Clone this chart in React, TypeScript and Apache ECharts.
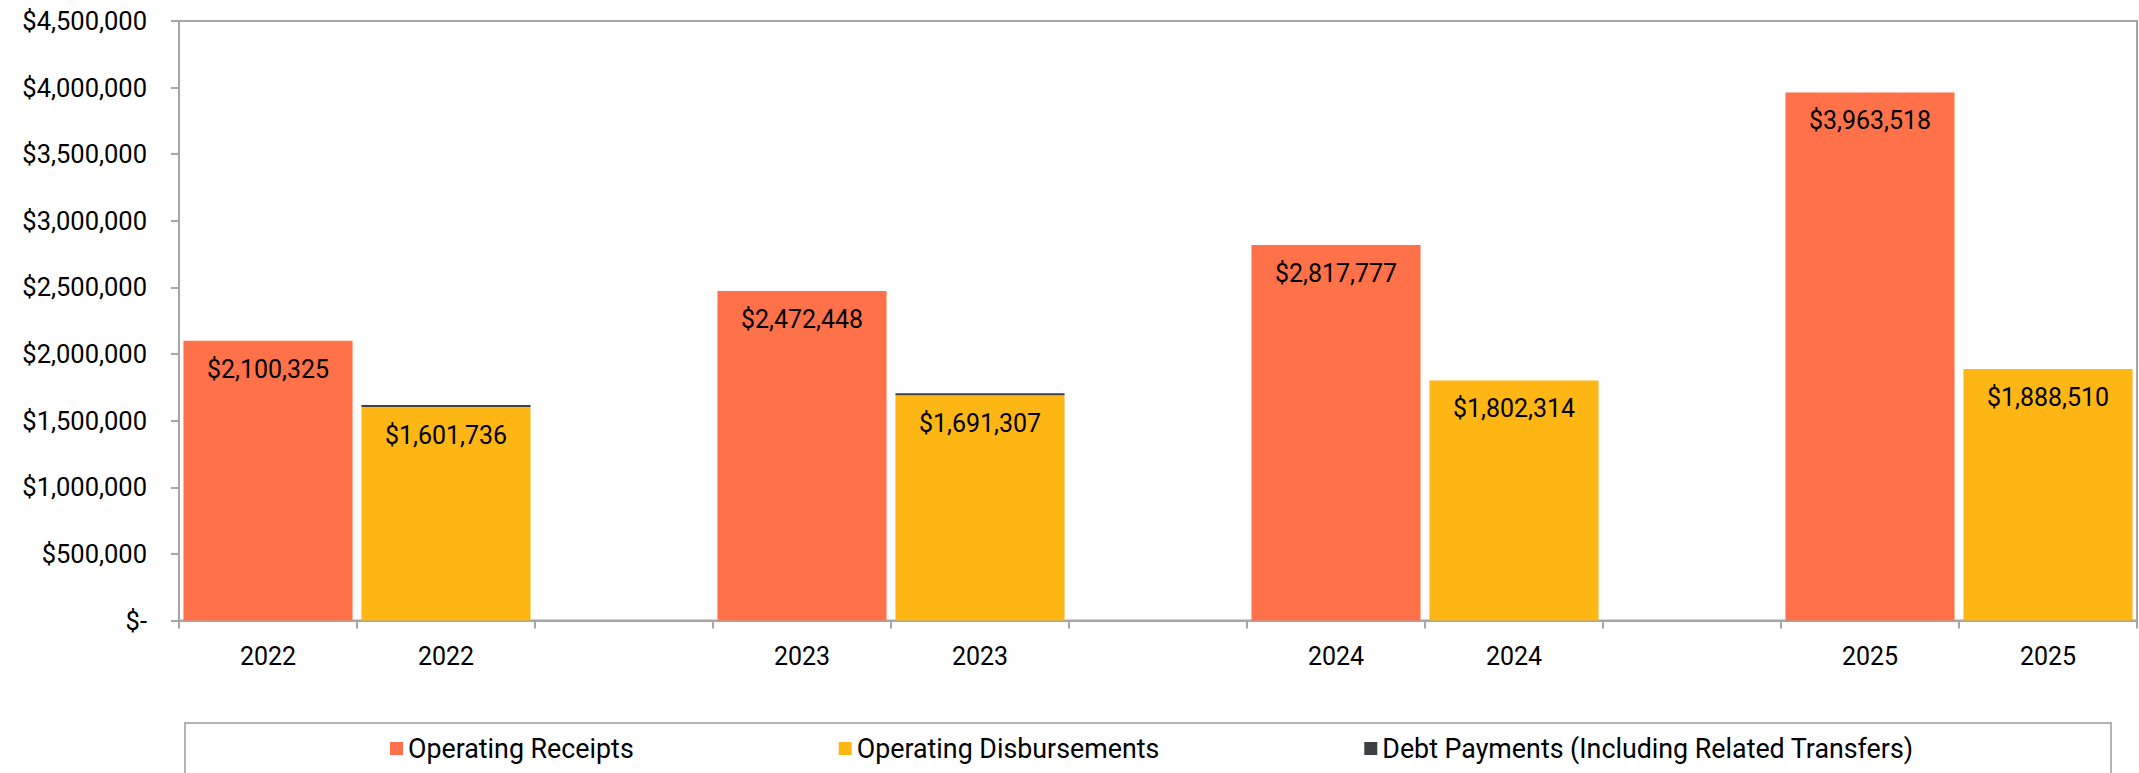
import React, { useEffect, useRef } from "react";
import * as echarts from "echarts";

const years = ["2022", "2023", "2024", "2025"];
const receipts = [2100325, 2472448, 2817777, 3963518];
const disbursements = [1601736, 1691307, 1802314, 1888510];
const debtPayments = [15000, 15000, 0, 0];
const yTicks = { min: 0, max: 4500000, interval: 500000 };

const FONT = "Roboto";
const C_REC = "#FF7148";
const C_DIS = "#FDB614";
const C_DEBT = "#3C4045";
const AXIS = "#a6a6a6";

export default function App() {
  const ref = useRef<HTMLDivElement>(null);
  useEffect(() => {
    document.body.style.margin = "0";
    if (!ref.current) return;
    const chart = echarts.init(ref.current, undefined, { renderer: "svg" });

    const categories: string[] = [];
    const recData: (number | null)[] = [];
    const disData: (number | null)[] = [];
    const debtData: (number | null)[] = [];
    years.forEach((y, i) => {
      categories.push(y, y);
      recData.push(receipts[i], null);
      disData.push(null, disbursements[i]);
      debtData.push(null, debtPayments[i] > 0 ? debtPayments[i] : null);
      if (i < years.length - 1) {
        categories.push("");
        recData.push(null);
        disData.push(null);
        debtData.push(null);
      }
    });

    const fmt = (v: number) => "$" + Math.round(v).toLocaleString("en-US");
    const label = {
      show: true,
      position: "insideTop",
      distance: 16,
      color: "#000",
      fontFamily: FONT,
      fontSize: 25,
      formatter: (p: any) => fmt(p.value),
    };

    chart.setOption({
      animation: false,
      textStyle: { fontFamily: FONT },
      grid: {
        left: 179,
        right: 2,
        top: 21,
        bottom: 152.5,
        show: true,
        borderColor: AXIS,
        borderWidth: 2,
      },
      legend: {
        left: 390,
        top: 735,
        padding: 0,
        itemGap: 205,
        itemWidth: 13,
        itemHeight: 13,
        icon: "rect",
        textStyle: { fontFamily: FONT, fontSize: 26.8, color: "#000" },
        data: [
          "Operating Receipts",
          "Operating Disbursements",
          "Debt Payments (Including Related Transfers)",
        ],
      },
      graphic: [
        {
          type: "rect",
          shape: { x: 185, y: 723, width: 1926, height: 70 },
          style: { fill: "none", stroke: "#b4b4b4", lineWidth: 2 },
          silent: true,
        },
      ],
      xAxis: {
        type: "category",
        data: categories,
        axisLine: { lineStyle: { color: AXIS, width: 2 } },
        axisTick: { show: true, interval: 0, length: 8, lineStyle: { color: AXIS, width: 2 } },
        axisLabel: { interval: 0, margin: 23, color: "#000", fontFamily: FONT, fontSize: 25 },
        splitLine: { show: false },
      },
      yAxis: {
        type: "value",
        min: yTicks.min,
        max: yTicks.max,
        interval: yTicks.interval,
        axisLine: { show: true, lineStyle: { color: AXIS, width: 2 } },
        axisTick: { show: true, length: 8, lineStyle: { color: AXIS, width: 2 } },
        axisLabel: {
          margin: 32,
          color: "#000",
          fontFamily: FONT,
          fontSize: 25.5,
          formatter: (v: number) => (v === 0 ? "$-" : fmt(v)),
        },
        splitLine: { show: false },
      },
      series: [
        {
          name: "Operating Receipts",
          type: "bar",
          stack: "total",
          barCategoryGap: "5%",
          data: recData,
          itemStyle: { color: C_REC },
          label,
        },
        {
          name: "Operating Disbursements",
          type: "bar",
          stack: "total",
          barCategoryGap: "5%",
          data: disData,
          itemStyle: { color: C_DIS },
          label,
        },
        {
          name: "Debt Payments (Including Related Transfers)",
          type: "bar",
          stack: "total",
          barCategoryGap: "5%",
          data: debtData,
          itemStyle: { color: C_DEBT },
        },
      ],
    });
    return () => chart.dispose();
  }, []);
  return <div ref={ref} style={{ width: 2139, height: 773 }} />;
}
